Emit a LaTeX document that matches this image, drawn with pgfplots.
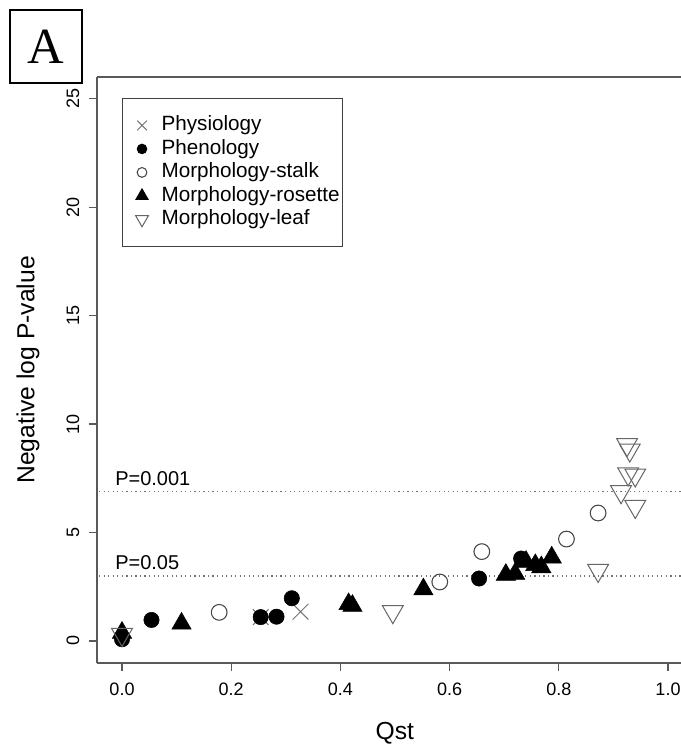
\documentclass[border=0pt]{standalone}
\usepackage{fontspec}
\setmainfont{Liberation Sans}
\newfontfamily\serifA{Liberation Serif}
\usepackage{pgfplots}
\pgfplotsset{compat=1.18}

\pgfplotsset{
  legmark/.style={legend image code/.code={
      \draw[##1, every mark/.append style={scale=0.62}] plot coordinates {(0pt,0pt)};
      \path (-12pt,0pt) (14.25pt,0pt);
  }},
}

\begin{document}
\begin{tikzpicture}
\useasboundingbox (-72.75pt,-63pt) rectangle (438pt,497.25pt);
% panel letter
\node[draw, line width=1.1pt, minimum width=54pt, minimum height=54.75pt, inner sep=0pt,
      font=\serifA\fontsize{38}{40}\selectfont] at (-38.25pt,462.4pt) {A};
\begin{axis}[
    at={(0,0)}, anchor=south west,
    scale only axis,
    width=438pt, height=439.5pt,
    xmin=-0.0458, xmax=1.0238,
    ymin=-1.015, ymax=26.0,
    axis y line*=left,
    tick pos=left,
    tick align=outside,
    major tick length=6pt,
    xtick={0,0.2,0.4,0.6,0.8,1.0},
    ytick={0,5,10,15,20,25},
    axis line style={black!65, line width=0.9pt},
    tick style={black!65, line width=0.9pt},
    /pgf/number format/assume math mode=true,
    tick label style={font=\fontsize{13.5}{16}\selectfont},
    xticklabel style={anchor=north, inner sep=0pt,
        /pgf/number format/.cd, fixed, fixed zerofill, precision=1},
    yticklabel style={rotate=90, anchor=south, inner sep=0pt},
    xticklabel shift=8.5pt,
    yticklabel shift=7pt,
    xlabel={Qst},
    ylabel={Negative log P-value},
    label style={font=\fontsize{18.5}{22}\selectfont},
    xlabel style={at={(rel axis cs:0.51,-0.1195)}, anchor=center},
    ylabel style={at={(rel axis cs:-0.118,0.5)}, anchor=center},
    legend style={at={(0.0428,0.9642)}, anchor=north west,
        draw=black!75, line width=0.75pt, fill=white,
        inner xsep=2.25pt, inner ysep=11.45pt,
        column sep=0pt, row sep=0pt,
        font=\fontsize{15.5}{18}\selectfont,
        nodes={inner xsep=0pt, inner ysep=1.3pt, text height=11.5pt, text depth=3.5pt}},
    legend cell align=left,
]
% significance thresholds
\addplot[black!55, line width=1pt, dash pattern=on 0.9pt off 2.5pt, forget plot]
    coordinates {(-0.1,6.9) (1.1,6.9)};
\addplot[black!55, line width=1pt, dash pattern=on 0.9pt off 2.5pt, forget plot]
    coordinates {(-0.1,3.0) (1.1,3.0)};

% Physiology
\addplot[only marks, mark=x, mark size=8.3pt, color=black!55, line width=0.75pt, legmark]
    coordinates {(0.254,1.10) (0.327,1.35)};
\addlegendentry{Physiology}
% Phenology
\addplot[only marks, mark=*, mark size=5.75pt, color=black, legmark]
    coordinates {(0.000,0.08) (0.054,0.97) (0.254,1.10) (0.283,1.12)
                 (0.311,1.97) (0.654,2.88) (0.731,3.80)};
\addlegendentry{Phenology}
% Morphology-stalk
\addplot[only marks, mark=o, mark size=5.9pt, color=black!72, line width=0.8pt, legmark]
    coordinates {(0.178,1.32) (0.582,2.72) (0.659,4.12) (0.814,4.70) (0.872,5.90)};
\addlegendentry{Morphology-stalk}
% Morphology-rosette
\addplot[only marks, mark=triangle*, mark size=8.4pt, color=black, legmark]
    coordinates {(0.000,0.38) (0.109,0.80) (0.415,1.70) (0.422,1.62) (0.552,2.38)
                 (0.703,3.05) (0.720,3.10) (0.740,3.65) (0.757,3.50) (0.768,3.40)
                 (0.787,3.85)};
\addlegendentry{Morphology-rosette}
% Morphology-leaf
\addplot[only marks, mark=triangle, mark size=9pt, color=black!60, line width=0.75pt,
         mark options={rotate=180}, legmark]
    coordinates {(0.000,0.30) (0.496,1.35) (0.872,3.25) (0.914,6.88) (0.940,6.20)
                 (0.927,7.70) (0.940,7.65) (0.925,9.05) (0.930,8.80)};
\addlegendentry{Morphology-leaf}

\node[anchor=base west, inner sep=0pt, font=\fontsize{15}{18}\selectfont]
    at (axis cs:-0.0128,6.9) [yshift=4.5pt] {P=0.001};
\node[anchor=base west, inner sep=0pt, font=\fontsize{15}{18}\selectfont]
    at (axis cs:-0.0128,3.0) [yshift=5pt] {P=0.05};
\end{axis}
\end{tikzpicture}
\end{document}
